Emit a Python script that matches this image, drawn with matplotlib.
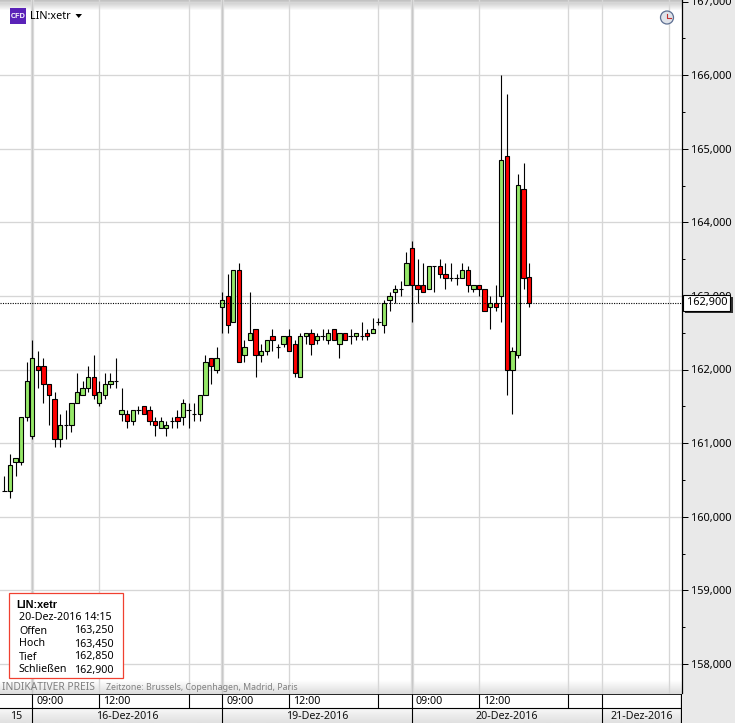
#!/usr/bin/env python3
# -*- coding: utf-8 -*-
# LIN:xetr 15 min candles, 16-Dez-2016 to 20-Dez-2016
import numpy as np
import matplotlib
matplotlib.use('Agg')
import matplotlib.pyplot as plt
from matplotlib.patches import Rectangle, Circle, Polygon
from matplotlib.ticker import FuncFormatter, MultipleLocator

plt.rcParams['font.family'] = ['Noto Sans', 'DejaVu Sans']

#%% Data

opens = [160.35, 160.35, 160.75, 160.75, 161.35, 161.10, 162.05, 162.05, 161.80, 161.60,
         161.05, 161.25, 161.25, 161.55, 161.65, 161.75, 161.90, 161.55, 161.65, 161.80,
         161.85, 161.40, 161.40, 161.30, 161.45, 161.50, 161.45, 161.30, 161.20, 161.20,
         161.30, 161.35, 161.35, 161.45, 161.40, 161.40, 161.65, 162.15, 162.00,
         162.85, 163.00, 162.65, 163.35, 162.20, 162.40, 162.55, 162.20, 162.25, 162.45,
         162.30, 162.35, 162.45, 162.35, 161.90, 162.45, 162.50, 162.40, 162.45, 162.40,
         162.55, 162.35, 162.50, 162.45, 162.45, 162.45, 162.50, 162.50, 162.65, 162.60,
         162.95, 163.05, 163.10, 163.15, 163.65, 163.15, 163.15, 163.10, 163.40, 163.40,
         163.30, 163.25, 163.25, 163.25, 163.35, 163.10, 163.15, 163.10, 162.85, 162.90,
         163.00, 164.90, 162.00, 162.20, 164.45, 163.25]
highs = [160.55, 160.85, 160.80, 161.35, 162.10, 162.40, 162.25, 162.15, 161.80, 161.70,
         161.40, 161.45, 161.55, 161.95, 161.85, 162.05, 162.20, 161.85, 161.95, 161.95,
         162.15, 161.75, 161.45, 161.45, 161.50, 161.50, 161.50, 161.35, 161.35, 161.30,
         161.35, 161.45, 161.60, 161.55, 161.55, 161.65, 162.20, 162.15, 162.30,
         163.05, 163.30, 163.35, 163.45, 162.40, 163.05, 162.55, 162.35, 162.40, 162.55,
         162.35, 162.45, 162.55, 162.40, 162.50, 162.50, 162.55, 162.50, 162.55, 162.55,
         162.55, 162.50, 162.50, 162.55, 162.50, 162.65, 162.55, 162.70, 162.70, 162.95,
         163.05, 163.15, 163.20, 163.60, 163.75, 163.50, 163.45, 163.40, 163.40, 163.50,
         163.45, 163.45, 163.30, 163.45, 163.40, 163.15, 163.15, 163.10, 163.00, 163.15,
         166.00, 165.75, 162.30, 164.65, 164.80, 163.45]
lows = [160.35, 160.25, 160.55, 160.70, 161.30, 161.05, 161.75, 161.55, 161.25, 160.95,
        160.95, 161.05, 161.15, 161.55, 161.65, 161.70, 161.60, 161.50, 161.60, 161.75,
        161.75, 161.30, 161.20, 161.25, 161.40, 161.40, 161.25, 161.10, 161.20, 161.10,
        161.20, 161.20, 161.25, 161.20, 161.30, 161.30, 161.65, 161.80, 161.95,
        162.50, 162.50, 162.65, 162.10, 162.10, 162.40, 161.90, 162.10, 162.20, 162.25,
        162.15, 162.30, 162.25, 161.90, 161.90, 162.35, 162.20, 162.35, 162.40, 162.35,
        162.40, 162.15, 162.40, 162.35, 162.40, 162.40, 162.40, 162.50, 162.60, 162.50,
        162.80, 162.90, 163.00, 163.15, 162.65, 162.90, 163.05, 163.10, 163.05, 163.25,
        163.10, 163.20, 163.15, 163.25, 163.05, 163.05, 163.00, 162.80, 162.55, 162.80,
        162.65, 161.65, 161.40, 162.15, 163.10, 162.85]
closes = [160.35, 160.70, 160.80, 161.35, 161.85, 162.15, 162.00, 161.80, 161.65, 161.05,
          161.25, 161.25, 161.55, 161.70, 161.75, 161.90, 161.65, 161.70, 161.80, 161.85,
          161.85, 161.45, 161.30, 161.45, 161.45, 161.40, 161.30, 161.25, 161.30, 161.25,
          161.30, 161.30, 161.55, 161.45, 161.40, 161.65, 162.10, 162.05, 162.15,
          162.95, 162.60, 163.35, 162.10, 162.30, 162.50, 162.20, 162.25, 162.40, 162.40,
          162.30, 162.45, 162.25, 161.95, 162.45, 162.50, 162.35, 162.45, 162.45, 162.50,
          162.40, 162.50, 162.40, 162.45, 162.50, 162.45, 162.45, 162.55, 162.65, 162.90,
          163.00, 163.10, 163.10, 163.45, 163.15, 163.10, 163.05, 163.40, 163.40, 163.30,
          163.25, 163.25, 163.25, 163.35, 163.15, 163.15, 163.10, 162.80, 162.90, 162.85,
          164.85, 162.00, 162.25, 164.50, 163.25, 162.90]

last_price = 162.90
day_bars = [5, 39, 73]               # 09:00 of each day, wider grid line
other_bars = [17, 33, 51, 67, 85, 101, 107, 119]  # lighter vertical grid
sep_bars = [5, 17, 33, 39, 51, 67, 73, 85, 101, 107]
hour_bars = [5, 17, 39, 51, 73, 85]
hour_labels = ['09:00', '12:00', '09:00', '12:00', '09:00', '12:00']
date_edges = [-0.79, 5, 39, 73, 107, 121.3]
date_labels = ['15', '16-Dez-2016', '19-Dez-2016', '20-Dez-2016', '21-Dez-2016']
info_names = ['Offen', 'Hoch', 'Tief', 'Schließen']
info_values = ['163,250', '163,450', '162,850', '162,900']

#%% Scales, pixel layout of the screenshot

W, H = 735, 723
right_px = 681.5
bottom_px = 693.5
px_per_bar = 5.583
x0_px = 4.4
px_per_unit = 73.6
y162_px = 369.5

fig = plt.figure(figsize=(W / 100, H / 100), dpi=100, facecolor='#e9e9e9')
ax = fig.add_axes([0, 1 - bottom_px / H, right_px / W, bottom_px / H])
ax.set_xlim(-x0_px / px_per_bar, (right_px - x0_px) / px_per_bar)
ax.set_ylim(162 - (bottom_px - y162_px) / px_per_unit, 162 + y162_px / px_per_unit)
ax.set_facecolor('white')

for b in other_bars:
    ax.axvline(b, color='#d6d6d6', lw=0.95, zorder=1)
for b in day_bars:
    ax.axvline(b, color='#dcdcdc', lw=2.4, zorder=1)
    ax.axvline(b, color='#c8c8c8', lw=0.8, zorder=1)
ax.yaxis.tick_right()
ax.yaxis.set_major_locator(MultipleLocator(1))
ax.yaxis.set_minor_locator(MultipleLocator(0.5))
ax.yaxis.set_major_formatter(FuncFormatter(lambda v, p: f'{v:.3f}'.replace('.', ',')))
ax.grid(axis='y', which='major', color='#d6d6d6', lw=0.95, zorder=1)
ax.set_axisbelow(True)
ax.tick_params(axis='y', which='major', length=4, width=0.72, pad=2.5, labelsize=7.9, colors='black')
ax.tick_params(axis='y', which='minor', length=2.5, width=0.72)
ax.set_xticks([])
for s in ['top', 'left', 'bottom']:
    ax.spines[s].set_visible(False)
ax.spines['right'].set_linewidth(0.9)

# fades at top and bottom of the plot
ylo, yhi = ax.get_ylim()
xlo, xhi = ax.get_xlim()
ax.imshow(np.linspace(0.76, 1, 10).reshape(-1, 1), extent=[0, 1, 1 - 11 / bottom_px, 1],
          transform=ax.transAxes, aspect='auto', cmap='gray', vmin=0, vmax=1, zorder=0.5)
ax.imshow(np.linspace(1, 0.87, 14).reshape(-1, 1), extent=[0, 1, 0, 14 / bottom_px],
          transform=ax.transAxes, aspect='auto', cmap='gray', vmin=0, vmax=1, zorder=0.5)
ax.set_xlim(xlo, xhi)
ax.set_ylim(ylo, yhi)

#%% Candles

bars = np.arange(len(opens))
o = np.array(opens)
c = np.array(closes)
colors = ['#ff0000' if c[i] < o[i] else '#96e868' for i in range(len(o))]
ax.vlines(bars, lows, highs, color='black', lw=0.8, zorder=3)
ax.bar(bars, np.abs(c - o), bottom=np.minimum(o, c), width=0.78, color=colors,
       edgecolor='black', linewidth=0.8, zorder=4)
ax.axhline(last_price, color='black', lw=0.8, ls=(0, (1, 1.2)), zorder=5)

#%% Time axis, two rows under the plot

ax2 = fig.add_axes([0, 0, right_px / W, (H - bottom_px) / H])
ax2.set_xticks([])
ax2.set_yticks([])
ax2.set_facecolor('white')
for s in ax2.spines.values():
    s.set_visible(False)
ax2.imshow(np.linspace(0.97, 0.88, 12).reshape(-1, 1), extent=[0, 1, 0, 0.5],
           transform=ax2.transAxes, aspect='auto', cmap='gray', vmin=0, vmax=1)
ax2.set_xlim(xlo, xhi)
ax2.set_ylim(0, 2)
ax2.axhline(2, color='black', lw=1.2)
ax2.axhline(1, color='black', lw=0.8)
ax2.axvline(xhi, color='black', lw=1.6)
ax2.vlines(sep_bars, 1, 2, color='black', lw=0.8)
ax2.vlines(date_edges[1:-1], 0, 1, color='black', lw=0.8)
for b, lab in zip(hour_bars, hour_labels):
    ax2.text(b + 0.7, 1.47, lab, fontsize=7.7, ha='left', va='center', color='black')
for i, lab in enumerate(date_labels):
    ax2.text((date_edges[i] + date_edges[i + 1]) / 2, 0.47, lab, fontsize=7.7,
             ha='center', va='center', color='#111111')

#%% Overlay in pixels: title, info box, price tag

ov = fig.add_axes([0, 0, 1, 1])
ov.set_xlim(0, W)
ov.set_ylim(H, 0)
ov.axis('off')
ov.patch.set_alpha(0)

ov.text(2, 687.5, 'INDIKATIVER PREIS', fontsize=7.4, color='#808080', va='center')
ov.text(106, 687.5, 'Zeitzone: Brussels, Copenhagen, Madrid, Paris', fontsize=6.3, color='#808080', va='center')

ov.add_patch(Rectangle((10, 8), 16, 16, fc='#5a22b8', ec='none'))
ov.text(18, 16, 'CFD', fontsize=5.2, color='white', ha='center', va='center',
        family=['Liberation Sans'], fontweight='bold')
ov.text(30, 16.5, 'LIN:xetr', fontsize=7.8, color='black', va='center')
ov.add_patch(Polygon([(75.5, 14), (82, 14), (78.7, 18)], fc='black', ec='none'))

ov.add_patch(Circle((667, 17.5), 6.5, fc='#dfe3ea', ec='#5d6f92', lw=0.9))
ov.plot([667, 667, 671], [13.5, 17.5, 17.5], color='#c03030', lw=0.8)

ov.add_patch(Rectangle((8.7, 593.3), 114, 85, fc='white', ec='#f04030', lw=0.9))
ov.text(16, 605, 'LIN:xetr', fontsize=7.8, family=['Liberation Sans'], fontweight='bold', va='center')
ov.text(19, 618, '20-Dez-2016 14:15', fontsize=7.7, va='center')
for i in range(len(info_names)):
    ov.text(19, 631 + 13 * i, info_names[i], fontsize=7.7, va='center')
    ov.text(114, 631 + 13 * i, info_values[i], fontsize=7.7, va='center', ha='right')

ov.add_patch(Rectangle((685, 297), 48, 16, fc='#303030', ec='none'))
ov.add_patch(Rectangle((683, 294.5), 47.5, 16, fc='white', ec='black', lw=0.8))
ov.text(707, 302.5, '162,900', fontsize=7.9, ha='center', va='center')

plt.savefig('out.png', dpi=100, facecolor=fig.get_facecolor())
